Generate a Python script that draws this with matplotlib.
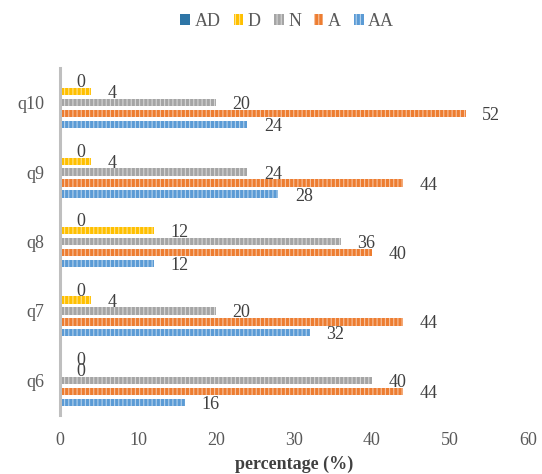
import numpy as np
import matplotlib
matplotlib.use("Agg")
import matplotlib.pyplot as plt

plt.rcParams['font.family'] = ['Liberation Serif', 'DejaVu Serif']
plt.rcParams['hatch.linewidth'] = 0.8

questions = ["q6", "q7", "q8", "q9", "q10"]
series_names = ["AD", "D", "N", "A", "AA"]
AD = [0, 0, 0, 0, 0]
D = [0, 4, 12, 4, 4]
N = [40, 20, 36, 24, 20]
A = [44, 44, 40, 44, 52]
AA = [16, 32, 12, 28, 24]
x_ticks = [0, 10, 20, 30, 40, 50, 60]

colors = ["#2e75a6", "#ffc000", "#a5a5a5", "#ed7d31", "#5b9bd5"]
size = 13

fig = plt.figure(figsize=(5.42, 4.74), dpi=100)
ax = fig.add_axes([0.1107, 0.1245, 0.8635, 0.732])

r = np.arange(len(questions))
pitch = 0.158
height = 0.105
all_vals = [AD, D, N, A, AA]

for i, (name, vals) in enumerate(zip(series_names, all_vals)):
    pos = r + (2 - i) * pitch
    if name == "AD":
        bars = ax.barh(pos, vals, height=height, color=colors[i], label=name, linewidth=0)
    else:
        bars = ax.barh(pos, vals, height=height, color=colors[i], label=name,
                       hatch="||||", edgecolor=(1, 1, 1, 0.55), linewidth=0)
    for b, v in zip(bars, vals):
        ax.annotate(str(v), (v, b.get_y() + b.get_height() / 2.0), xytext=(12, -1.5),
                    textcoords="offset points", ha="left", va="center",
                    fontsize=size, color="#404040")

ax.set_xlim(0, 60)
ax.set_ylim(-0.5, 4.5)
ax.set_xticks(x_ticks)
ax.set_yticks(r)
ax.set_yticklabels(questions)
ax.tick_params(axis="both", length=0, labelsize=size, labelcolor="#595959")
ax.tick_params(axis="x", pad=12)
ax.tick_params(axis="y", pad=11)
for s in ["top", "right", "bottom"]:
    ax.spines[s].set_visible(False)
ax.spines["left"].set_color("#bfbfbf")
ax.spines["left"].set_linewidth(2.2)
ax.set_xlabel("percentage (%)", fontsize=size, fontweight="bold", color="#404040", labelpad=5)

fig.legend(loc="center", bbox_to_anchor=(0.53, 0.954), ncol=5, frameon=False,
           fontsize=size, handlelength=0.55, handleheight=0.55, handletextpad=0.25,
           columnspacing=0.7, labelcolor="#595959")

fig.savefig("out.png", dpi=100)
